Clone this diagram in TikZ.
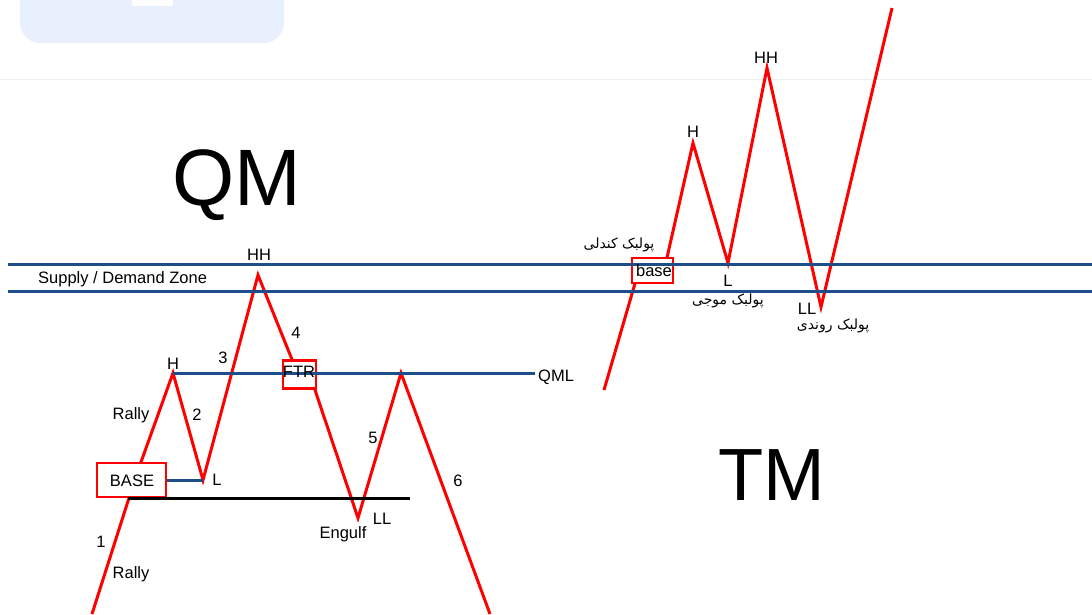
\documentclass[tikz,border=0pt]{standalone}
\usepackage{fontspec}
\setmainfont{Liberation Sans}
\newfontfamily\fa[Script=Arabic]{DejaVu Sans}
\TeXXeTstate=1
\definecolor{chartred}{HTML}{FF0000}
\definecolor{zoneblue}{HTML}{1D4E8A}
\definecolor{panelblue}{HTML}{E8F0FE}
\definecolor{rulegray}{HTML}{F0F0F0}
\begin{document}
\begin{tikzpicture}[x=1pt,y=-1pt,
  redl/.style={draw=chartred,line width=3pt,line join=miter},
  bluel/.style={draw=zoneblue,line width=3pt},
  blackl/.style={draw=black,line width=3pt},
  rbox/.style={draw=chartred,line width=2.5pt,fill=white,inner sep=0pt},
  lbl/.style={inner sep=0pt,font=\fontsize{16.5}{18}\selectfont,text height=11.8pt,text depth=0pt},
  big/.style={inner sep=0pt,font=\fontsize{80}{90}\selectfont,text height=57.3pt,text depth=0pt},
  falbl/.style={inner sep=0pt,font=\fa\fontsize{14}{16}\selectfont}]
\useasboundingbox (0,0) rectangle (1092,614);
% panel at top-left
\path[fill=panelblue,rounded corners=20pt] (20,-40) rectangle (284,43);
\path[fill=white] (132,-2) rectangle (173,6);
\draw[rulegray,line width=1pt] (0,79) -- (1092,79);

% ---- left chart points
\coordinate (s0) at (92,614);
\coordinate (sk) at (136,476);
\coordinate (pH) at (173,373);
\coordinate (pL) at (203,480);
\coordinate (pHH) at (258,275);
\coordinate (f1) at (293,362);
\coordinate (f2) at (314,387);
\coordinate (pLL) at (358,518);
\coordinate (pP) at (401,373);
\coordinate (pE) at (490,614);
\draw[redl] (s0) -- (sk) -- (pH) -- (pL) -- (pHH) -- (f1) -- (f2) -- (pLL) -- (pP) -- (pE);

% ---- right chart points
\coordinate (r0) at (604,390);
\coordinate (r1) at (636,280);
\coordinate (r2) at (666,262);
\coordinate (rH) at (693,143);
\coordinate (rL) at (728,263);
\coordinate (rHH) at (767,68);
\coordinate (rLL) at (821,307);
\coordinate (rE) at (892,8);
\draw[redl] (r0) -- (r1) -- (r2) -- (rH) -- (rL) -- (rHH) -- (rLL) -- (rE);

% boxes
\node[rbox,minimum width=69pt,minimum height=34pt] (basebox) at (131.5,480) {};
\node[rbox,minimum width=33pt,minimum height=28pt] (ftrbox) at (299.5,374.5) {};
\node[rbox,minimum width=41pt,minimum height=25pt] (rbasebox) at (652.5,270.5) {};

% zone lines
\coordinate (z1a) at (8,264);
\coordinate (z1b) at (1092,264);
\coordinate (z2a) at (8,291);
\coordinate (z2b) at (1092,291);
\draw[bluel] (z1a) -- (z1b);
\draw[bluel] (z2a) -- (z2b);

% QML line and base-L line
\coordinate (qmlend) at (535,373);
\draw[bluel] (pH) -- (qmlend);
\draw[bluel] (basebox.east) -- (pL);
\coordinate (blA) at (128,498);
\coordinate (blB) at (410,498);
\draw[blackl] (blA) -- (blB);

% big labels
\node[big] (qm) at (237,177) {QM};
\node[big,font=\fontsize{74}{84}\selectfont,text height=53pt] (tm) at (772,474) {TM};

% left labels
\node[lbl,anchor=west] (zone) at (38,278) {Supply / Demand Zone};
\node[lbl] (tH) at (173,364) {H};
\node[lbl] (tR1) at (131,414) {Rally};
\node[lbl] (t2) at (197,415) {2};
\node[lbl] (t3) at (223,358) {3};
\node[lbl] (tHH) at (259,255) {HH};
\node[lbl] (t4) at (296,333) {4};
\node[lbl] (tFTR) at (299,372) {FTR};
\node[lbl] (tL) at (217,480) {L};
\node[lbl] (tBASE) at (132,481) {BASE};
\node[lbl] (t1) at (101,542) {1};
\node[lbl] (tR2) at (131,573) {Rally};
\node[lbl] (t5) at (373,438) {5};
\node[lbl] (tEng) at (343,533) {Engulf};
\node[lbl] (tLL) at (382,519) {LL};
\node[lbl] (t6) at (458,481) {6};
\node[lbl,anchor=west] (tQML) at (538,376) {QML};

% right labels
\node[lbl] (rtH) at (693,132) {H};
\node[lbl] (rtHH) at (766,58) {HH};
\node[lbl] (rtL) at (728,281) {L};
\node[lbl] (rtLL) at (807,309) {LL};
\node[lbl] (rtbase) at (654,271) {base};
\node[falbl] (fa1) at (619,245) {\beginR پولبک کندلی\endR};
\node[falbl] (fa2) at (728,301) {\beginR پولبک موجی\endR};
\node[falbl] (fa3) at (833,326) {\beginR پولبک روندی\endR};
\end{tikzpicture}
\end{document}
